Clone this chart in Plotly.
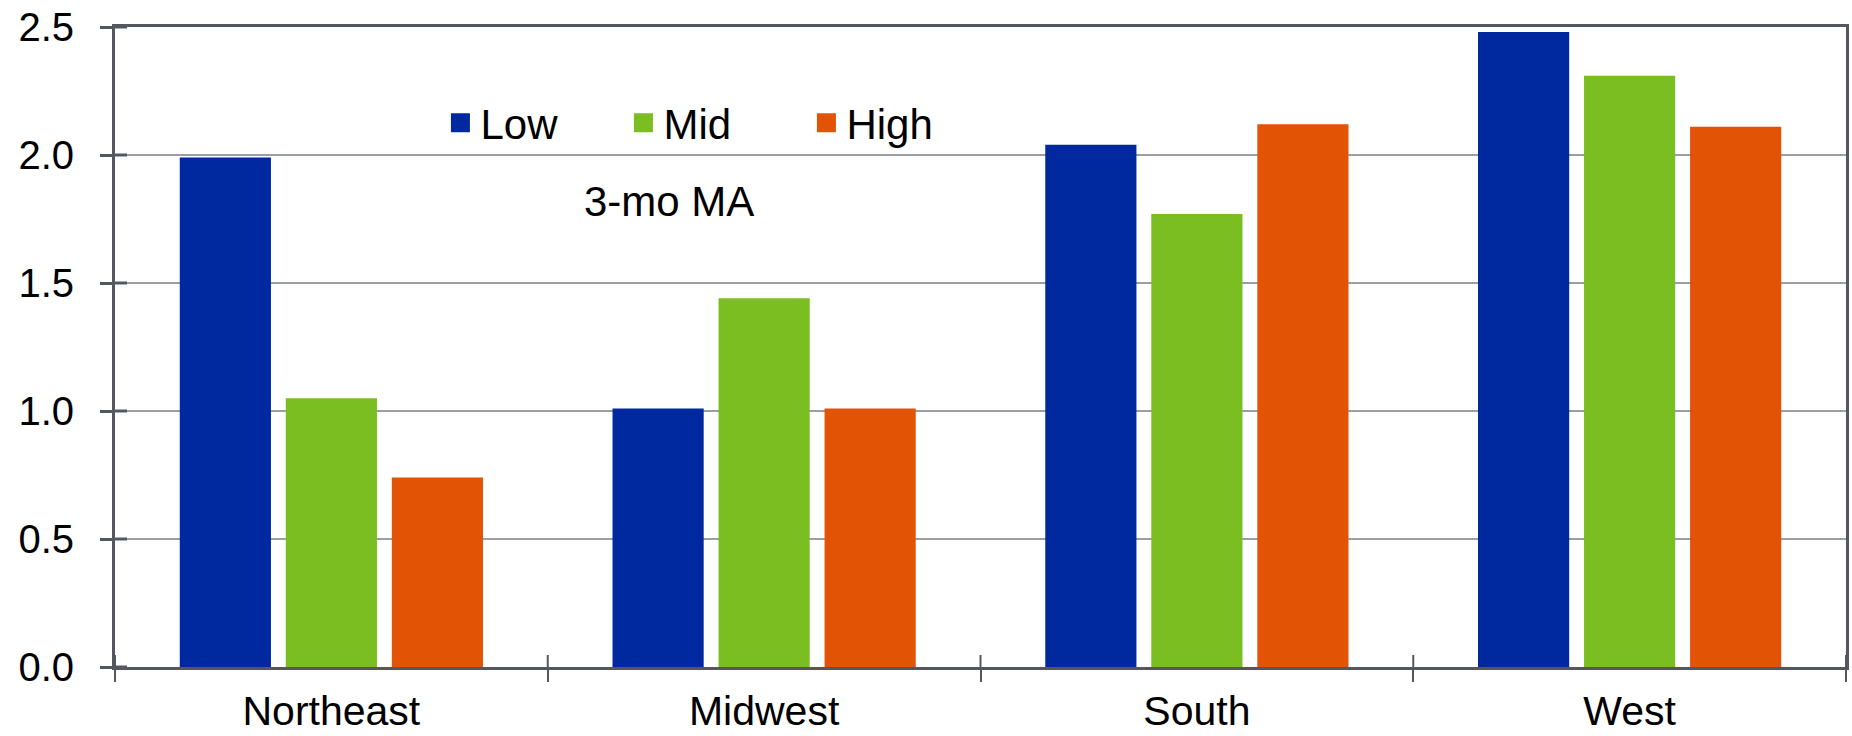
import plotly.graph_objects as go

regions = ["Northeast", "Midwest", "South", "West"]
low = [1.99, 1.01, 2.04, 2.48]
mid = [1.05, 1.44, 1.77, 2.31]
high = [0.74, 1.01, 2.12, 2.11]
series_names = ["Low", "Mid", "High"]
colors = ["#0029a0", "#7abe22", "#e35306"]
y_ticks = [0.0, 0.5, 1.0, 1.5, 2.0, 2.5]

FONT = "Liberation Sans, Arial, sans-serif"
AXIS_DARK = "#54585e"
GRID = "#9a9fa5"

W, H = 1852, 736
M = dict(l=115, r=6, t=27, b=69)
plot_w = W - M["l"] - M["r"]
plot_h = H - M["t"] - M["b"]
TICK_IN = 12  # px, inward half of the crossing tick marks

fig = go.Figure()
for name, vals, col in zip(series_names, [low, mid, high], colors):
    fig.add_trace(go.Bar(x=regions, y=vals, name=name, marker=dict(color=col, line=dict(width=0)),
                         showlegend=False, legendgroup=name))
# legend entries with larger square swatches
for name, col in zip(series_names, colors):
    fig.add_trace(go.Scatter(x=[None], y=[None], mode="markers", name=name, legendgroup=name,
                             marker=dict(symbol="square", size=16, color=col, line=dict(width=3, color=col))))

# inward halves of the crossing tick marks (axis ticks are drawn outside by plotly)
for v in y_ticks:
    fig.add_shape(type="line", xref="paper", yref="y", x0=0, x1=TICK_IN / plot_w, y0=v, y1=v,
                  line=dict(color=AXIS_DARK, width=3), layer="above")
for i in range(len(regions) + 1):
    b = i - 0.5
    fig.add_shape(type="line", xref="x", yref="paper", x0=b, x1=b, y0=0, y1=TICK_IN / plot_h,
                  line=dict(color=AXIS_DARK, width=2), layer="above")

fig.add_annotation(text="3-mo MA", x=0.32, y=0.728, xref="paper", yref="paper", showarrow=False,
                   xanchor="center", yanchor="middle",
                   font=dict(family=FONT, size=42, color="#000000"))

fig.update_layout(
    width=W, height=H,
    margin=M,
    paper_bgcolor="white", plot_bgcolor="white",
    font=dict(family=FONT, size=42, color="#000000"),
    barmode="group", bargap=0.265, bargroupgap=0.14,
    legend=dict(orientation="h", x=0.188, y=0.85, xanchor="left", yanchor="middle",
                font=dict(family=FONT, size=42), entrywidth=138, bgcolor="rgba(0,0,0,0)",
                itemsizing="trace"),
    xaxis=dict(type="category", categoryarray=regions, range=[-0.5, 3.5], automargin=False,
               showline=True, linecolor=AXIS_DARK, linewidth=3, mirror=True,
               ticks="outside", tickson="boundaries", ticklen=12, tickwidth=2, tickcolor=AXIS_DARK,
               showgrid=False, tickfont=dict(family=FONT, size=41), ticklabelstandoff=6),
    yaxis=dict(range=[0, 2.5], tickvals=y_ticks, tickformat=".1f", automargin=False,
               showline=True, linecolor=AXIS_DARK, linewidth=3, mirror=True,
               ticks="outside", ticklen=12, tickwidth=3, tickcolor=AXIS_DARK,
               showgrid=True, gridcolor=GRID, gridwidth=2, zeroline=False,
               tickfont=dict(family=FONT, size=40), ticklabelstandoff=18),
)

fig.write_html("out.html", config={"displayModeBar": False},
               post_script="document.body.style.margin='0';document.body.style.overflow='hidden';")
